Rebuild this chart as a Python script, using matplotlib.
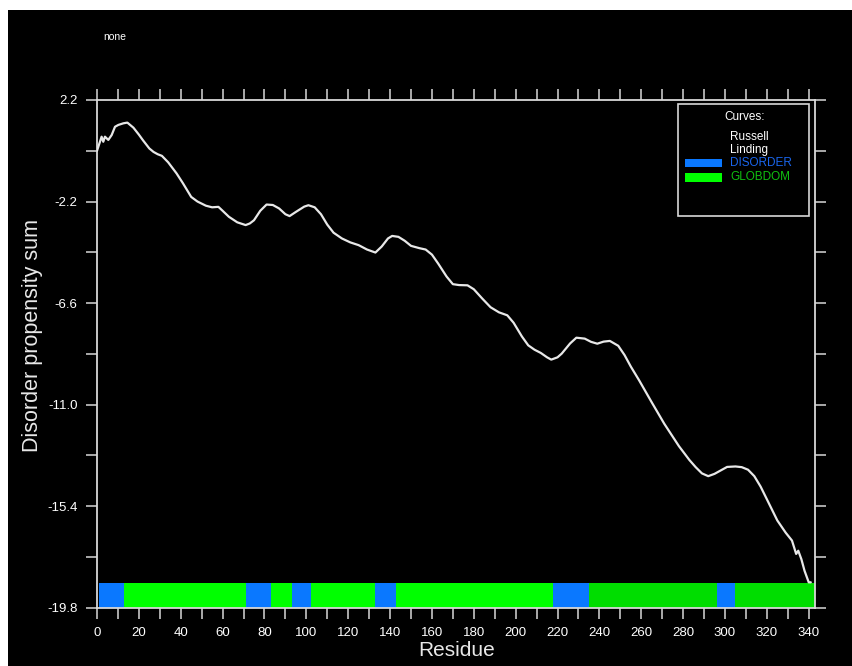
import matplotlib
matplotlib.use("Agg")
import matplotlib.pyplot as plt
from matplotlib.patches import Rectangle

# ---------------- data ----------------
residue = [0, 2.2, 3.0, 3.8, 5.4, 7.0, 8.6, 10.2, 12.6, 14.5, 17.4, 20, 22, 25, 27, 29, 31,
           34, 38, 41, 45, 48, 52, 55, 58, 60, 63, 67, 71, 73, 75, 78, 81, 84, 87, 90, 92,
           95, 99, 101, 104, 107, 110, 113, 117, 121, 125, 129, 133, 136, 139, 141, 144,
           147, 150, 154, 157, 160, 163, 167, 170, 173, 177, 180, 184, 188, 192, 196, 199,
           203, 206, 209, 212, 215, 217, 220, 222, 226, 229, 233, 236, 239, 242, 245, 249,
           252, 255, 259, 265, 271, 278, 283, 286, 289, 292, 295, 298, 301, 305, 308, 311,
           314, 317, 320, 325, 329, 332, 334, 335, 336.5, 338, 340, 341]
propensity = [0.0, 0.61, 0.39, 0.61, 0.47, 0.68, 1.04, 1.12, 1.19, 1.22, 1.0, 0.7, 0.45,
              0.1, -0.05, -0.15, -0.22, -0.5, -0.98, -1.4, -2.0, -2.2, -2.38, -2.45,
              -2.43, -2.6, -2.86, -3.1, -3.22, -3.15, -3.01, -2.6, -2.33, -2.35, -2.5,
              -2.75, -2.83, -2.65, -2.42, -2.36, -2.45, -2.75, -3.2, -3.55, -3.8, -3.97,
              -4.09, -4.28, -4.41, -4.15, -3.8, -3.69, -3.73, -3.9, -4.12, -4.22, -4.28,
              -4.5, -4.89, -5.45, -5.78, -5.82, -5.83, -6.0, -6.4, -6.78, -7.0, -7.13,
              -7.45, -8.05, -8.43, -8.62, -8.76, -8.95, -9.05, -8.95, -8.79, -8.35, -8.10,
              -8.14, -8.28, -8.36, -8.27, -8.24, -8.45, -8.85, -9.35, -9.95, -10.9, -11.83,
              -12.8, -13.4, -13.71, -13.98, -14.1, -14.0, -13.85, -13.7, -13.68, -13.71,
              -13.82, -14.1, -14.55, -15.1, -16.02, -16.55, -16.89, -17.47, -17.33, -17.7,
              -18.2, -18.7, -18.7]

seg_start = [1, 13, 71, 83, 93, 102, 133, 143, 218, 235, 296, 305]
seg_end = [13, 71, 83, 93, 102, 133, 143, 218, 235, 296, 305, 343]
seg_type = ["DISORDER", "GLOBDOM", "DISORDER", "GLOBDOM", "DISORDER", "GLOBDOM",
            "DISORDER", "GLOBDOM", "DISORDER", "GLOBDOM2", "DISORDER", "GLOBDOM2"]

y_ticks = [2.2, -2.2, -6.6, -11.0, -15.4, -19.8]
x_ticks = list(range(0, 341, 20))

seg_colors = {"DISORDER": "#0a78ff", "GLOBDOM": "#00ff00", "GLOBDOM2": "#00dd00"}

W, H = 852, 666
fig = plt.figure(figsize=(W / 100, H / 100), dpi=100, facecolor="white")
plt.rcParams["font.family"] = ["Liberation Sans", "DejaVu Sans"]


def px(x, y):
    return (x / W, 1 - y / H)


# black background (white strips at top and left as in reference)
fig.add_artist(Rectangle((8 / W, 0), 1 - 8 / W, 1 - 10 / H, transform=fig.transFigure,
                         facecolor="black", edgecolor="none", zorder=0))

ax = fig.add_axes([97 / W, 1 - 607.7 / H, (815 - 97) / W, (607.7 - 100) / H])
ax.set_facecolor("black")
ax.set_xlim(0, 343)
ax.set_ylim(-19.8, 2.2)

ax.plot(residue, propensity, color="#e8e8e8", lw=1.6, zorder=3,
        solid_joinstyle="round", solid_capstyle="round")

for s, e, t in zip(seg_start, seg_end, seg_type):
    ax.broken_barh([(s, e - s)], (-19.8, 1.05), facecolors=seg_colors[t],
                   edgecolor="none", zorder=2)

ax.set_xticks(x_ticks)
ax.set_xticks(list(range(10, 343, 20)), minor=True)
ax.set_yticks(y_ticks)
ax.set_yticklabels([f"{v:.1f}" for v in y_ticks])
ax.set_yticks([0.0, -4.4, -8.8, -13.2, -17.6], minor=True)
ax.tick_params(which="both", direction="out", length=8, width=1.1, color="#d8d8d8",
               top=True, right=True, labelcolor="white", labelsize=9.5, pad=6)
for sp in ax.spines.values():
    sp.set_color("#d8d8d8")
    sp.set_linewidth(1.3)

fig.text(*px(33, 335), "Disorder propensity sum", rotation=90, color="#e8e8e8",
         fontsize=15.5, ha="center", va="center")
fig.text(*px(457, 651), "Residue", color="#e8e8e8", fontsize=15, ha="center",
         va="center")
fig.text(*px(103, 37), "none", color="white", fontsize=7.5, ha="left", va="center")

# legend box
fig.add_artist(Rectangle(px(678, 215.7), 131 / W, 111.7 / H, transform=fig.transFigure,
                         facecolor="none", edgecolor="#d8d8d8", lw=1.2, zorder=5))
fig.text(*px(745, 117), "Curves:", color="white", fontsize=8.5, ha="center", va="center")
fig.text(*px(730, 137), "Russell", color="white", fontsize=8.5, ha="left", va="center")
fig.text(*px(730, 150), "Linding", color="white", fontsize=8.5, ha="left", va="center")
fig.add_artist(Rectangle(px(685, 167.3), 37 / W, 8.3 / H, transform=fig.transFigure,
                         facecolor=seg_colors["DISORDER"], edgecolor="none", zorder=5))
fig.text(*px(730, 163), "DISORDER", color="#1a66ee", fontsize=8.5, ha="left", va="center")
fig.add_artist(Rectangle(px(685, 181.7), 37 / W, 9 / H, transform=fig.transFigure,
                         facecolor=seg_colors["GLOBDOM"], edgecolor="none", zorder=5))
fig.text(*px(730, 177), "GLOBDOM", color="#10c010", fontsize=8.5, ha="left", va="center")

fig.savefig("out.png", dpi=100, facecolor="white")
